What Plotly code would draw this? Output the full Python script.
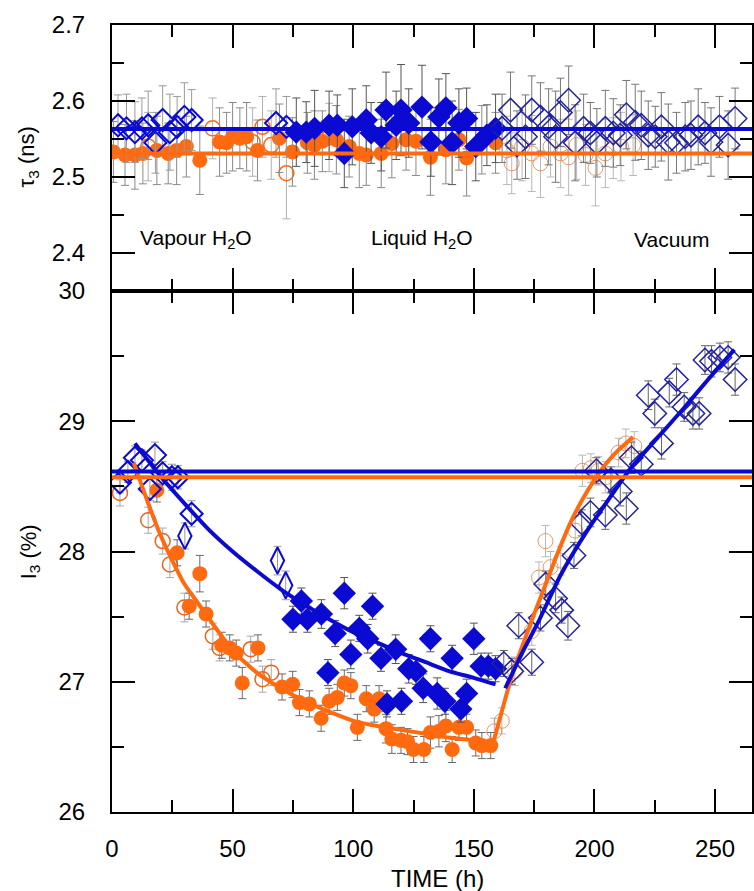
import plotly.graph_objects as go

# ---------------------------------------------------------------------------
# tau3 (ns) -- rows of (time h, value, error)
# ---------------------------------------------------------------------------
tau_blue_vapour = [
    (2.5, 2.568, 0.040), (6.0, 2.564, 0.045), (9.5, 2.559, 0.040), (12.4, 2.564, 0.040),
    (15.0, 2.568, 0.045), (18.0, 2.545, 0.040), (21.0, 2.575, 0.045), (24.0, 2.559, 0.050),
    (27.0, 2.566, 0.040), (30.0, 2.579, 0.045), (33.0, 2.575, 0.040), (68.0, 2.571, 0.045),
    (72.3, 2.566, 0.040),
]
tau_blue_liquid = [
    (76.4, 2.559, 0.045), (80.5, 2.559, 0.040), (84.0, 2.564, 0.050), (90.0, 2.568, 0.045),
    (93.4, 2.568, 0.040), (96.3, 2.531, 0.045), (99.6, 2.566, 0.050), (105.4, 2.575, 0.045),
    (107.4, 2.558, 0.040), (111.6, 2.553, 0.045), (113.6, 2.588, 0.050), (117.8, 2.568, 0.045),
    (119.8, 2.588, 0.060), (123.0, 2.571, 0.045), (128.5, 2.592, 0.055), (132.2, 2.546, 0.045),
    (135.5, 2.579, 0.050), (138.4, 2.591, 0.045), (141.0, 2.545, 0.055), (143.8, 2.571, 0.045),
    (147.0, 2.577, 0.040), (150.8, 2.540, 0.045), (155.4, 2.555, 0.040), (159.0, 2.564, 0.045),
]
tau_blue_vacuum = [
    (161.7, 2.564, 0.045), (165.2, 2.588, 0.050), (167.9, 2.542, 0.045), (171.4, 2.553, 0.055),
    (174.0, 2.588, 0.045), (177.6, 2.579, 0.045), (181.0, 2.566, 0.050), (183.9, 2.553, 0.060),
    (185.9, 2.585, 0.045), (189.3, 2.601, 0.045), (192.0, 2.545, 0.050), (195.5, 2.564, 0.045),
    (198.3, 2.558, 0.040), (201.0, 2.545, 0.045), (204.5, 2.564, 0.050), (207.8, 2.558, 0.045),
    (210.7, 2.555, 0.040), (213.2, 2.582, 0.045), (216.9, 2.572, 0.050), (219.4, 2.568, 0.045),
    (222.3, 2.555, 0.045), (225.2, 2.553, 0.040), (227.7, 2.566, 0.045), (230.6, 2.546, 0.050),
    (234.0, 2.545, 0.040), (237.6, 2.553, 0.045), (240.0, 2.555, 0.045), (243.0, 2.566, 0.050),
    (245.8, 2.558, 0.040), (248.3, 2.546, 0.045), (251.8, 2.566, 0.040), (255.4, 2.542, 0.045),
    (258.3, 2.577, 0.040),
]
tau_orange_filled = [
    (0.6, 2.533, 0.040), (5.4, 2.529, 0.040), (9.5, 2.529, 0.045), (12.8, 2.531, 0.040),
    (18.6, 2.535, 0.045), (23.3, 2.531, 0.040), (26.8, 2.535, 0.045), (30.8, 2.540, 0.040),
    (36.4, 2.522, 0.045), (44.6, 2.546, 0.045), (47.5, 2.545, 0.040), (50.0, 2.553, 0.045),
    (53.0, 2.551, 0.040), (55.8, 2.553, 0.045), (60.3, 2.535, 0.040), (69.4, 2.551, 0.045),
    (74.8, 2.533, 0.045), (81.0, 2.545, 0.040), (83.9, 2.542, 0.045), (87.2, 2.547, 0.040),
    (93.0, 2.549, 0.045), (98.3, 2.540, 0.040), (102.5, 2.531, 0.045), (105.4, 2.529, 0.040),
    (111.6, 2.531, 0.045), (116.0, 2.544, 0.045), (121.9, 2.549, 0.040), (126.0, 2.547, 0.045),
    (132.0, 2.526, 0.050), (138.4, 2.536, 0.045), (143.8, 2.549, 0.040), (147.0, 2.525, 0.050),
    (153.3, 2.549, 0.045), (159.0, 2.545, 0.040),
]
tau_orange_open = [
    (15.0, 2.540, 0.045), (41.7, 2.564, 0.040), (58.3, 2.546, 0.045), (62.4, 2.566, 0.040),
    (66.0, 2.542, 0.045), (72.3, 2.505, 0.060), (90.0, 2.552, 0.045),
]
tau_orange_vacuum = [
    (163.7, 2.535, 0.045), (165.7, 2.518, 0.040), (170.0, 2.540, 0.045), (174.0, 2.531, 0.050),
    (177.6, 2.518, 0.045), (181.8, 2.540, 0.040), (186.0, 2.531, 0.045), (189.3, 2.526, 0.050),
    (192.6, 2.542, 0.045), (196.3, 2.529, 0.040), (200.4, 2.512, 0.050), (204.5, 2.531, 0.045),
    (207.8, 2.538, 0.040), (211.0, 2.540, 0.045), (216.0, 2.542, 0.040),
]
tau_mean_blue = 2.563
tau_mean_orange = 2.531

# ---------------------------------------------------------------------------
# I3 (%) -- rows of (time h, value, error)
# ---------------------------------------------------------------------------
i3_blue_vapour = [
    (3.3, 28.53, 0.08), (6.6, 28.61, 0.08), (9.5, 28.72, 0.09), (12.4, 28.70, 0.08),
    (15.7, 28.48, 0.09), (17.8, 28.74, 0.10), (21.0, 28.60, 0.09), (24.8, 28.57, 0.10),
    (27.3, 28.57, 0.09), (33.0, 28.29, 0.10),
]
i3_blue_vapour_tall = [
    (30.2, 28.12, 0.10), (68.6, 27.93, 0.11), (72.0, 27.74, 0.11),
]
i3_blue_liquid = [
    (75.0, 27.48, 0.10), (78.5, 27.62, 0.10), (81.0, 27.48, 0.10), (86.8, 27.52, 0.11),
    (89.5, 27.07, 0.10), (92.5, 27.37, 0.10), (96.3, 27.68, 0.12), (99.0, 27.21, 0.11),
    (102.5, 27.41, 0.10), (106.0, 27.33, 0.11), (108.0, 27.58, 0.10), (111.5, 27.18, 0.10),
    (114.0, 26.83, 0.10), (117.6, 27.25, 0.11), (120.0, 26.85, 0.10), (123.0, 27.10, 0.11),
    (126.0, 27.08, 0.10), (129.0, 26.95, 0.11), (132.0, 27.33, 0.10), (134.8, 26.91, 0.12),
    (138.0, 26.85, 0.10), (141.0, 27.18, 0.10), (144.6, 26.79, 0.10), (147.0, 26.91, 0.11),
    (150.0, 27.33, 0.12), (153.0, 27.12, 0.10), (156.0, 27.12, 0.10), (159.0, 27.10, 0.10),
]
i3_blue_vacuum = [
    (162.4, 27.14, 0.10), (165.7, 27.08, 0.10), (168.6, 27.43, 0.10), (174.0, 27.15, 0.10),
    (177.6, 27.49, 0.10), (179.8, 27.75, 0.10), (183.9, 27.64, 0.11), (186.4, 27.55, 0.10),
    (189.0, 27.43, 0.11), (191.5, 27.97, 0.10), (194.7, 28.22, 0.10), (198.3, 28.30, 0.11),
    (200.8, 28.62, 0.10), (204.5, 28.28, 0.11), (206.8, 28.55, 0.10), (210.7, 28.46, 0.11),
    (213.2, 28.33, 0.12), (215.3, 28.72, 0.12), (219.4, 28.67, 0.10), (222.3, 29.20, 0.11),
    (225.0, 29.06, 0.11), (227.8, 28.83, 0.12), (231.0, 29.22, 0.11), (234.0, 29.32, 0.12),
    (237.2, 29.11, 0.11), (240.8, 29.06, 0.12), (243.4, 29.06, 0.12), (245.8, 29.47, 0.11),
    (248.5, 29.46, 0.12), (252.0, 29.49, 0.11), (255.4, 29.49, 0.12), (258.3, 29.32, 0.12),
]
i3_orange_filled = [
    (18.6, 28.47, 0.09), (27.0, 27.99, 0.10), (32.0, 27.58, 0.10), (36.4, 27.83, 0.14),
    (39.0, 27.52, 0.10), (45.5, 27.28, 0.10), (48.8, 27.26, 0.10), (51.5, 27.22, 0.10),
    (54.0, 26.99, 0.12), (60.5, 27.26, 0.10), (70.5, 26.96, 0.10), (74.9, 26.98, 0.10),
    (77.7, 26.84, 0.10), (81.8, 26.83, 0.10), (86.7, 26.72, 0.10), (90.0, 26.85, 0.10),
    (93.4, 26.88, 0.10), (96.3, 26.99, 0.10), (99.0, 26.97, 0.10), (101.7, 26.65, 0.10),
    (105.4, 26.87, 0.10), (108.7, 26.79, 0.10), (110.7, 26.87, 0.10), (113.6, 26.64, 0.11),
    (116.0, 26.56, 0.11), (119.8, 26.55, 0.10), (122.5, 26.54, 0.10), (125.0, 26.48, 0.10),
    (129.3, 26.48, 0.10), (132.0, 26.61, 0.12), (135.5, 26.62, 0.12), (138.4, 26.66, 0.12),
    (141.0, 26.48, 0.10), (143.8, 26.65, 0.10), (147.0, 26.65, 0.10), (150.8, 26.53, 0.10),
    (153.3, 26.51, 0.10), (157.0, 26.51, 0.10),
]
i3_orange_open = [
    (3.3, 28.45, 0.10), (15.0, 28.24, 0.10), (21.0, 28.08, 0.10), (24.0, 27.90, 0.10),
    (30.0, 27.57, 0.11), (41.8, 27.35, 0.10), (44.6, 27.26, 0.10), (57.5, 27.25, 0.10),
    (62.4, 27.02, 0.10), (66.0, 27.07, 0.10),
]
i3_orange_vacuum = [
    (158.5, 26.62, 0.10), (161.6, 26.70, 0.10), (167.0, 27.08, 0.11), (174.0, 27.39, 0.11),
    (177.0, 27.80, 0.12), (179.7, 28.08, 0.12), (181.8, 27.88, 0.12), (186.0, 27.93, 0.11),
    (192.0, 28.16, 0.11), (195.0, 28.62, 0.12), (198.5, 28.64, 0.11), (201.6, 28.62, 0.11),
    (204.5, 28.57, 0.12), (210.0, 28.76, 0.11), (213.0, 28.83, 0.11), (216.5, 28.81, 0.11),
]
i3_mean_blue = 28.615
i3_mean_orange = 28.57

# fitted trends
i3_fit_blue_decay = [
    (9.5, 28.83), (20, 28.58), (30, 28.37), (40, 28.17), (50, 28.00), (60, 27.85),
    (70, 27.71), (80, 27.59), (90, 27.48), (100, 27.38), (110, 27.30), (120, 27.22),
    (130, 27.15), (140, 27.08), (150, 27.03), (159, 26.98),
]
i3_fit_blue_rise = [
    (163, 26.95), (170, 27.22), (177, 27.47), (186, 27.82), (197, 28.16), (207, 28.43),
    (215, 28.64), (226, 28.87), (237, 29.10), (248, 29.34), (258, 29.55),
]
i3_fit_orange_decay = [
    (9, 28.68), (15, 28.37), (20, 28.13), (25, 27.93), (30, 27.75), (35, 27.62),
    (40, 27.49), (50, 27.24), (60, 27.07), (70, 26.95), (80, 26.85), (90, 26.77),
    (100, 26.70), (110, 26.66), (120, 26.63), (130, 26.60), (140, 26.57), (150, 26.55),
    (158, 26.53),
]
i3_fit_orange_rise = [
    (158, 26.53), (162, 26.80), (166, 27.06), (170, 27.27), (175, 27.52), (180, 27.76),
    (185, 28.00), (190, 28.22), (195, 28.40), (200, 28.55), (205, 28.68), (210, 28.78),
    (216, 28.88),
]

time_span = [0, 270]
phase_labels = ["Vapour H<sub>2</sub>O", "Liquid H<sub>2</sub>O", "Vacuum"]
phase_label_x = [35, 128.5, 232]

X_RANGE = [0, 265.3]
I3_RANGE = [26, 30]
TAU_RANGE = [2.35, 2.7]

BLUE = "#0a0ad2"
NAVY = "#23239c"
ORANGE = "#ff6a10"
FONT = "Arial, 'Liberation Sans', sans-serif"

fig = go.Figure()


def cols(rows):
    return [list(c) for c in zip(*rows)]


def points(rows, xa, ya, symbol, color, size, line_w=0, line_color=None, err_color="#7a7a7a"):
    x, y, e = cols(rows)
    fig.add_trace(go.Scatter(
        x=x, y=y, xaxis=xa, yaxis=ya, mode="markers",
        marker=dict(symbol=symbol, color=color, size=size,
                    line=dict(width=line_w, color=line_color or color)),
        error_y=dict(type="data", array=e, visible=True, color=err_color,
                     thickness=1, width=4),
        showlegend=False, hoverinfo="skip"))


def curve(rows, xa, ya, color, width=4):
    x, y = cols(rows)
    fig.add_trace(go.Scatter(x=x, y=y, xaxis=xa, yaxis=ya, mode="lines",
                             line=dict(color=color, width=width, shape="spline", smoothing=0.6),
                             showlegend=False, hoverinfo="skip"))


def level(value, xa, ya, color):
    fig.add_trace(go.Scatter(x=time_span, y=[value, value], xaxis=xa, yaxis=ya, mode="lines",
                             line=dict(color=color, width=4),
                             showlegend=False, hoverinfo="skip"))


# --- upper panel: tau3 ---
points(tau_orange_vacuum, "x2", "y2", "circle-open", "rgba(222,130,70,0.8)", 15, 1, err_color="#b8b8b8")
points(tau_orange_open, "x2", "y2", "circle-open", ORANGE, 15, 1.5, err_color="#b0b0b0")
points(tau_orange_filled, "x2", "y2", "circle", ORANGE, 15, err_color="#8a8a8a")
points(tau_blue_vapour, "x2", "y2", "diamond-open", BLUE, 17, 2, err_color="#9a9a9a")
points(tau_blue_liquid, "x2", "y2", "diamond", BLUE, 18, err_color="#555555")
points(tau_blue_vacuum, "x2", "y2", "diamond-open", NAVY, 18, 1.5, err_color="#777777")
level(tau_mean_orange, "x2", "y2", ORANGE)
level(tau_mean_blue, "x2", "y2", BLUE)

# --- lower panel: I3 ---
points(i3_orange_vacuum, "x", "y", "circle-open", "rgba(222,130,70,0.8)", 15, 1, err_color="#b8b8b8")
points(i3_orange_open, "x", "y", "circle-open", "#e8641a", 15, 1.5, err_color="#a8a8a8")
points(i3_orange_filled, "x", "y", "circle", ORANGE, 15, err_color="#6a6a6a")
points(i3_blue_vapour, "x", "y", "diamond-open", BLUE, 17, 2, err_color="#999999")
points(i3_blue_vapour_tall, "x", "y", "diamond-tall-open", BLUE, 19, 2, err_color="#999999")
points(i3_blue_liquid, "x", "y", "diamond", BLUE, 18, err_color="#555555")
points(i3_blue_vacuum, "x", "y", "diamond-open", NAVY, 18, 1.5, err_color="#666666")
curve(i3_fit_orange_decay, "x", "y", ORANGE)
curve(i3_fit_orange_rise, "x", "y", ORANGE)
curve(i3_fit_blue_decay, "x", "y", BLUE)
curve(i3_fit_blue_rise, "x", "y", BLUE)
level(i3_mean_orange, "x", "y", ORANGE)
level(i3_mean_blue, "x", "y", BLUE)

tick_font = dict(family=FONT, size=24, color="black")


def minor(step, start):
    return dict(ticks="inside", tick0=start, dtick=step, ticklen=12, tickwidth=2,
                tickcolor="black")


axis_style = dict(showgrid=False, zeroline=False, showline=True, linecolor="black", linewidth=2,
                  mirror="ticks", ticks="inside", ticklen=23, tickwidth=2, tickcolor="black",
                  tickfont=tick_font, layer="above traces")

BOTTOM_DOMAIN = [0, 0.662]
TOP_DOMAIN = [0.662, 1]

fig.update_layout(
    template="simple_white",
    width=754, height=891,
    margin=dict(l=112, r=0, t=25, b=79),
    paper_bgcolor="white", plot_bgcolor="white",
    font=dict(family=FONT, color="black"),
    showlegend=False,
    xaxis=dict(axis_style, anchor="y", range=X_RANGE, dtick=50, ticklabelstandoff=14,
               minor=minor(25, 0)),
    xaxis2=dict(axis_style, anchor="y2", range=X_RANGE, dtick=50, matches="x",
                showticklabels=False, minor=minor(25, 0)),
    yaxis=dict(axis_style, domain=BOTTOM_DOMAIN, anchor="x", range=I3_RANGE, dtick=1,
               ticklabelstandoff=20, minor=minor(0.5, 26)),
    yaxis2=dict(axis_style, domain=TOP_DOMAIN, anchor="x2", range=TAU_RANGE, dtick=0.1,
                tick0=2.4, tickformat=".1f", ticklabelstandoff=20, minor=minor(0.05, 2.4)),
)

annotations = []
for text, xpos in zip(phase_labels, phase_label_x):
    annotations.append(dict(text=text, x=xpos, y=2.418, xref="x2", yref="y2", showarrow=False,
                            font=dict(family=FONT, size=21, color="black")))
annotations.append(dict(text="TIME (h)", x=0.509, y=-0.084, xref="paper", yref="paper",
                        showarrow=False, yanchor="middle",
                        font=dict(family=FONT, size=24, color="black")))
annotations.append(dict(text="τ<sub>3</sub> (ns)", x=-0.131, y=0.832, xref="paper", yref="paper",
                        showarrow=False, textangle=-90, xanchor="center", yanchor="middle",
                        font=dict(family=FONT, size=22, color="black")))
annotations.append(dict(text="I<sub>3</sub> (%)", x=-0.128, y=0.330, xref="paper", yref="paper",
                        showarrow=False, textangle=-90, xanchor="center", yanchor="middle",
                        font=dict(family=FONT, size=22, color="black")))
fig.update_layout(annotations=annotations)

fig.write_html("out.html")
